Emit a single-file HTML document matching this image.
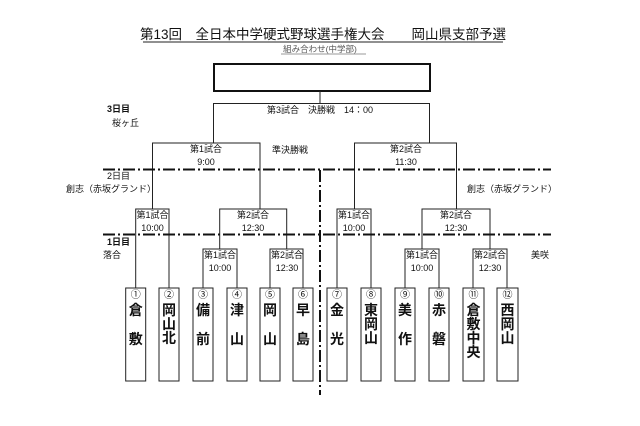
<!DOCTYPE html>
<html><head><meta charset="utf-8"><style>
html,body{margin:0;padding:0;background:#fff;}
svg{display:block;}
text{font-family:"Liberation Sans","Noto Sans CJK JP",sans-serif;fill:#111;}
</style></head><body>
<svg width="640" height="426" viewBox="0 0 640 426" xmlns="http://www.w3.org/2000/svg">
<text x="323" y="39" font-size="13.5" text-anchor="middle">第13回　全日本中学硬式野球選手権大会　　岡山県支部予選</text>
<line x1="143" y1="42" x2="503" y2="42" stroke="#222" stroke-width="1"/>
<text x="320" y="52" font-size="8.5" text-anchor="middle" fill="#555" style="fill:#555">組み合わせ(中学部)</text>
<line x1="281" y1="54" x2="366" y2="54" stroke="#777" stroke-width="0.8"/>
<rect x="214" y="64" width="216" height="27" fill="none" stroke="#111" stroke-width="2"/>
<g stroke="#222" stroke-width="1" fill="none">
<path d="M320 91V103.5M213.5 143V103.5H429.5V143"/>
<path d="M152.5 209V143H260V209M354.5 209V143H456.5V209"/>
<path d="M135.7 288V209H169V288M337 288V209H371V288"/>
<path d="M219.7 249V209H286.7V249M422 249V209H490V249"/>
<path d="M203 288V249H237V288M270 288V249H303V288M405 288V249H439V288M473 288V249H507V288"/>
</g>
<g stroke="#111" stroke-width="2" stroke-dasharray="12,3,2,3" fill="none">
<line x1="103" y1="169.5" x2="551" y2="169.5"/>
<line x1="103" y1="234.5" x2="551" y2="234.5"/>
<line x1="320" y1="170" x2="320" y2="395"/>
</g>
<g font-size="9">
<text x="320" y="113" text-anchor="middle">第3試合　決勝戦　14：00</text>
<text x="107" y="112" font-weight="bold">3日目</text>
<text x="112" y="126">桜ヶ丘</text>
<text x="290" y="153" text-anchor="middle">準決勝戦</text>
<text x="206" y="152" text-anchor="middle">第1試合</text>
<text x="206" y="165" text-anchor="middle">9:00</text>
<text x="406" y="152" text-anchor="middle">第2試合</text>
<text x="406" y="165" text-anchor="middle">11:30</text>
<text x="107" y="179">2日目</text>
<text x="66" y="192">創志（赤坂グランド）</text>
<text x="467" y="192">創志（赤坂グランド）</text>
<text x="152.5" y="218" text-anchor="middle">第1試合</text>
<text x="152.5" y="231" text-anchor="middle">10:00</text>
<text x="253" y="218" text-anchor="middle">第2試合</text>
<text x="253" y="231" text-anchor="middle">12:30</text>
<text x="354" y="218" text-anchor="middle">第1試合</text>
<text x="354" y="231" text-anchor="middle">10:00</text>
<text x="456" y="218" text-anchor="middle">第2試合</text>
<text x="456" y="231" text-anchor="middle">12:30</text>
<text x="107" y="245" font-weight="bold">1日目</text>
<text x="103" y="258">落合</text>
<text x="531" y="258">美咲</text>
<text x="220" y="258" text-anchor="middle">第1試合</text>
<text x="220" y="271" text-anchor="middle">10:00</text>
<text x="287" y="258" text-anchor="middle">第2試合</text>
<text x="287" y="271" text-anchor="middle">12:30</text>
<text x="422" y="258" text-anchor="middle">第1試合</text>
<text x="422" y="271" text-anchor="middle">10:00</text>
<text x="490" y="258" text-anchor="middle">第2試合</text>
<text x="490" y="271" text-anchor="middle">12:30</text>
</g>
<g stroke="#222" stroke-width="1" fill="#fff">
<rect x="125.7" y="288" width="20" height="93"/><rect x="159" y="288" width="20" height="93"/>
<rect x="193" y="288" width="20" height="93"/><rect x="227" y="288" width="20" height="93"/>
<rect x="260" y="288" width="20" height="93"/><rect x="293" y="288" width="20" height="93"/>
<rect x="327" y="288" width="20" height="93"/><rect x="361" y="288" width="20" height="93"/>
<rect x="395" y="288" width="20" height="93"/><rect x="429" y="288" width="20" height="93"/>
<rect x="463" y="288" width="21" height="93"/><rect x="497" y="288" width="21" height="93"/>
</g>
<g font-size="10" text-anchor="middle">
<text x="135.7" y="298">①</text><text x="169" y="298">②</text><text x="203" y="298">③</text><text x="237" y="298">④</text>
<text x="270" y="298">⑤</text><text x="303" y="298">⑥</text><text x="337" y="298">⑦</text><text x="371" y="298">⑧</text>
<text x="405" y="298">⑨</text><text x="439" y="298">⑩</text><text x="473.5" y="298">⑪</text><text x="507.5" y="298">⑫</text>
</g>
<g font-size="14" font-weight="bold" text-anchor="middle">
<text x="135.7" y="315">倉</text><text x="135.7" y="344">敷</text>
<text x="169" y="315">岡</text><text x="169" y="329">山</text><text x="169" y="343">北</text>
<text x="203" y="315">備</text><text x="203" y="344">前</text>
<text x="237" y="315">津</text><text x="237" y="344">山</text>
<text x="270" y="315">岡</text><text x="270" y="344">山</text>
<text x="303" y="315">早</text><text x="303" y="344">島</text>
<text x="337" y="315">金</text><text x="337" y="344">光</text>
<text x="371" y="315">東</text><text x="371" y="329">岡</text><text x="371" y="343">山</text>
<text x="405" y="315">美</text><text x="405" y="344">作</text>
<text x="439" y="315">赤</text><text x="439" y="344">磐</text>
<text x="473.5" y="315">倉</text><text x="473.5" y="329">敷</text><text x="473.5" y="343">中</text><text x="473.5" y="357">央</text>
<text x="507.5" y="315">西</text><text x="507.5" y="329">岡</text><text x="507.5" y="343">山</text>
</g>
</svg>
</body></html>
